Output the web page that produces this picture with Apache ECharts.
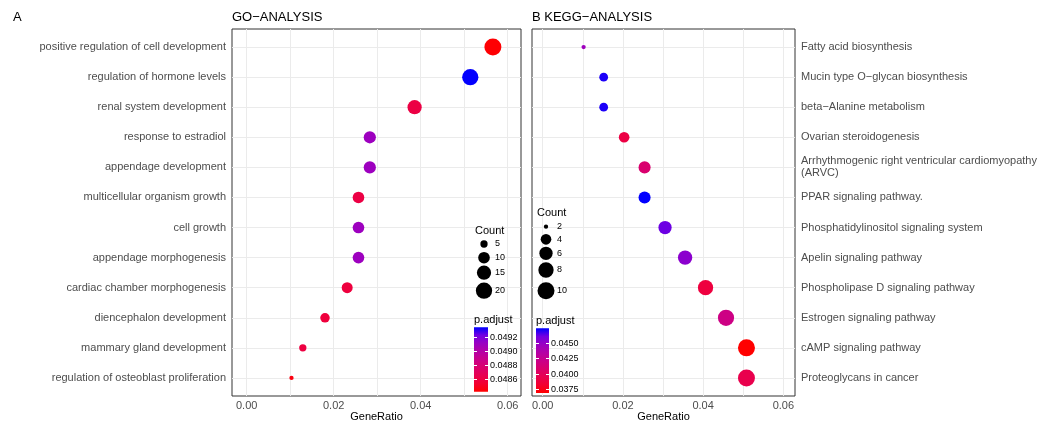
<!DOCTYPE html>
<html>
<head>
<meta charset="utf-8">
<script src="https://cdn.jsdelivr.net/npm/echarts@6/dist/echarts.min.js"></script>
<style>
  html, body { margin: 0; padding: 0; background: #fff; }
  #chart { width: 1049px; height: 425px; }
</style>
</head>
<body>
<div id="chart"></div>
<script>
// GO 富集结果（从上到下）
const goTerms = [
  'positive regulation of cell development',
  'regulation of hormone levels',
  'renal system development',
  'response to estradiol',
  'appendage development',
  'multicellular organism growth',
  'cell growth',
  'appendage morphogenesis',
  'cardiac chamber morphogenesis',
  'diencephalon development',
  'mammary gland development',
  'regulation of osteoblast proliferation'
]
const goRatio = [0.0566, 0.0514, 0.0386, 0.0283, 0.0283, 0.0257, 0.0257, 0.0257, 0.0231, 0.0180, 0.0129, 0.0103]
const goCount = [22, 20, 15, 11, 11, 10, 10, 10, 9, 7, 5, 4]
const goPadj = [0.04843, 0.04934, 0.04861, 0.04910, 0.04910, 0.04861, 0.04910, 0.04910, 0.04859, 0.04858, 0.04860, 0.04846]

// KEGG 富集结果（从上到下）
const keggTerms = [
  'Fatty acid biosynthesis',
  'Mucin type O\u2212glycan biosynthesis',
  'beta\u2212Alanine metabolism',
  'Ovarian steroidogenesis',
  'Arrhythmogenic right ventricular cardiomyopathy\n(ARVC)',
  'PPAR signaling pathway.',
  'Phosphatidylinositol signaling system',
  'Apelin signaling pathway',
  'Phospholipase D signaling pathway',
  'Estrogen signaling pathway',
  'cAMP signaling pathway',
  'Proteoglycans in cancer'
]
const keggRatio = [0.0102, 0.0152, 0.0152, 0.0203, 0.0254, 0.0254, 0.0305, 0.0355, 0.0406, 0.0457, 0.0508, 0.0508]
const keggCount = [2, 3, 3, 4, 5, 5, 6, 7, 8, 9, 10, 10]
const keggPadj = [0.0445, 0.0470, 0.0470, 0.0390, 0.0409, 0.0473, 0.0461, 0.0452, 0.0388, 0.0419, 0.0369, 0.0394]

// 刻度 / 图例
const xTicks = [0, 0.02, 0.04, 0.06]
const xGridLines = [0, 0.01, 0.02, 0.03, 0.04, 0.05, 0.06]
const goSizeBreaks = [5, 10, 15, 20]
const keggSizeBreaks = [2, 4, 6, 8, 10]
const goColorBreaks = [0.0486, 0.0488, 0.0490, 0.0492]
const keggColorBreaks = [0.0375, 0.0400, 0.0425, 0.0450]

const FONT = '"Liberation Sans", Arial, Helvetica, sans-serif'
// red -> blue (Lab 插值近似)
const ramp = ['#FF0000', '#F30030', '#E80050', '#DA006C', '#CA0089', '#B500A5', '#9A00C2', '#7300E1', '#0000FF']

const goRange = [0.048423, 0.049343]
const keggRange = [0.036904, 0.047318]
const goCountRange = [4, 22]
const keggCountRange = [2, 10]

const sizeFn = (c, range) => 4.3 + (17 - 4.3) * Math.sqrt((c - range[0]) / (range[1] - range[0]))

const toData = (ratio, count, padj) => ratio.map((r, i) => [r, i, padj[i], count[i]])

const myChart = echarts.init(document.getElementById('chart'))

function yAxisOf (terms, grid, pos) {
  const idx = terms.map((t, i) => i)
  return {
    type: 'value',
    gridIndex: grid,
    position: pos,
    inverse: true,
    min: -0.6,
    max: 11.6,
    axisLine: { show: false },
    axisTick: { show: true, length: 3, customValues: idx, lineStyle: { color: '#333' } },
    axisLabel: {
      customValues: idx,
      formatter: v => terms[Math.round(v)],
      color: '#4d4d4d',
      fontSize: 11,
      fontFamily: FONT,
      margin: 6,
      lineHeight: 12
    },
    splitLine: { show: false }
  }
}

function xAxisOf (grid, min, max) {
  return {
    type: 'value',
    gridIndex: grid,
    min: min,
    max: max,
    name: 'GeneRatio',
    nameLocation: 'middle',
    nameGap: 15,
    nameMoveOverlap: false,
    nameTextStyle: { color: '#000', fontSize: 11, fontFamily: FONT, verticalAlign: 'top' },
    axisLine: { show: false },
    axisTick: { show: true, length: 3, customValues: xTicks, lineStyle: { color: '#333' } },
    axisLabel: {
      customValues: xTicks,
      formatter: v => v.toFixed(2),
      color: '#4d4d4d',
      fontSize: 11,
      fontFamily: FONT,
      margin: 4
    },
    splitLine: { show: false }
  }
}

function gridLines (grid, n) {
  const lines = xGridLines.map(v => ({ xAxis: v }))
  for (let i = 0; i < n; i++) lines.push({ yAxis: i })
  return {
    type: 'line',
    xAxisIndex: grid,
    yAxisIndex: grid,
    data: [],
    z: 1,
    silent: true,
    markLine: {
      silent: true,
      z: 1,
      symbol: 'none',
      animation: false,
      label: { show: false },
      lineStyle: { color: '#EBEBEB', type: 'solid', width: 1 },
      data: lines
    }
  }
}

// 图例：Count 圆点
function sizeLegend (x, titleY, ys, breaks, range) {
  const els = [{
    type: 'text', left: x, top: titleY - 7, z: 20,
    style: { text: 'Count', fontSize: 11, fontFamily: FONT, fill: '#000' }
  }]
  breaks.forEach((b, i) => {
    const r = sizeFn(b, range) / 2
    els.push({ type: 'circle', z: 20, shape: { cx: x + 9, cy: ys[i], r: r }, style: { fill: '#000' } })
    els.push({
      type: 'text', x: x + 20, y: ys[i], z: 20,
      style: { text: String(b), fontSize: 9, fontFamily: FONT, fill: '#000', verticalAlign: 'middle' }
    })
  })
  return els
}

// 图例：p.adjust 色条
function colorLegend (x, titleY, top, bottom, w, breaks, range) {
  const h = bottom - top
  const stops = ramp.map((c, i) => ({ offset: 1 - i / (ramp.length - 1), color: c }))
  const els = [{
    type: 'text', left: x, top: titleY - 7, z: 20,
    style: { text: 'p.adjust', fontSize: 11, fontFamily: FONT, fill: '#000' }
  }, {
    type: 'rect', z: 20, shape: { x: x, y: top, width: w, height: h },
    style: { fill: new echarts.graphic.LinearGradient(0, 0, 0, 1, stops) }
  }]
  breaks.forEach(b => {
    const y = Math.round(top + (range[1] - b) / (range[1] - range[0]) * h) + 0.5
    els.push({ type: 'line', z: 21, shape: { x1: x, y1: y, x2: x + 3, y2: y }, style: { stroke: '#fff', lineWidth: 1 } })
    els.push({ type: 'line', z: 21, shape: { x1: x + w - 3, y1: y, x2: x + w, y2: y }, style: { stroke: '#fff', lineWidth: 1 } })
    els.push({
      type: 'text', x: x + w + 2, y: y, z: 20,
      style: { text: b.toFixed(4), fontSize: 9, fontFamily: FONT, fill: '#000', verticalAlign: 'middle' }
    })
  })
  return els
}

const titleStyle = { fontSize: 13, fontWeight: 'normal', color: '#000', fontFamily: FONT }

myChart.setOption({
  animation: false,
  backgroundColor: '#fff',
  title: [
    { text: 'A', left: 13, top: 11, padding: 0, textStyle: titleStyle },
    { text: 'GO\u2212ANALYSIS', left: 232, top: 11, padding: 0, textStyle: titleStyle },
    { text: 'B KEGG\u2212ANALYSIS', left: 532, top: 11, padding: 0, textStyle: titleStyle }
  ],
  grid: [
    { left: 232, top: 29, width: 289, height: 367, outerBoundsMode: 'none', show: true, borderColor: '#333', borderWidth: 1, backgroundColor: '#fff' },
    { left: 532, top: 29, width: 263, height: 367, outerBoundsMode: 'none', show: true, borderColor: '#333', borderWidth: 1, backgroundColor: '#fff' }
  ],
  xAxis: [
    xAxisOf(0, -0.00338, 0.06306),
    xAxisOf(1, -0.00267, 0.0629)
  ],
  yAxis: [
    yAxisOf(goTerms, 0, 'left'),
    yAxisOf(keggTerms, 1, 'right')
  ],
  visualMap: [
    { show: false, seriesIndex: 0, dimension: 2, min: goRange[0], max: goRange[1], inRange: { color: ramp } },
    { show: false, seriesIndex: 1, dimension: 2, min: keggRange[0], max: keggRange[1], inRange: { color: ramp } }
  ],
  series: [
    {
      name: 'GO',
      type: 'scatter',
      xAxisIndex: 0,
      yAxisIndex: 0,
      z: 3,
      data: toData(goRatio, goCount, goPadj),
      symbolSize: d => sizeFn(d[3], goCountRange),
      itemStyle: { opacity: 1 }
    },
    {
      name: 'KEGG',
      type: 'scatter',
      xAxisIndex: 1,
      yAxisIndex: 1,
      z: 3,
      data: toData(keggRatio, keggCount, keggPadj),
      symbolSize: d => sizeFn(d[3], keggCountRange),
      itemStyle: { opacity: 1 }
    },
    gridLines(0, goTerms.length),
    gridLines(1, keggTerms.length)
  ],
  graphic: [
    ...sizeLegend(475, 232.7, [244, 257.7, 272.7, 290.7], goSizeBreaks, goCountRange),
    ...colorLegend(474, 321.7, 327.3, 391.7, 14, goColorBreaks, goRange),
    ...sizeLegend(537, 214.3, [226.7, 239.3, 253.3, 270, 290.7], keggSizeBreaks, keggCountRange),
    ...colorLegend(536, 322.7, 328.3, 393, 13, keggColorBreaks, keggRange)
  ]
})
</script>
</body>
</html>
